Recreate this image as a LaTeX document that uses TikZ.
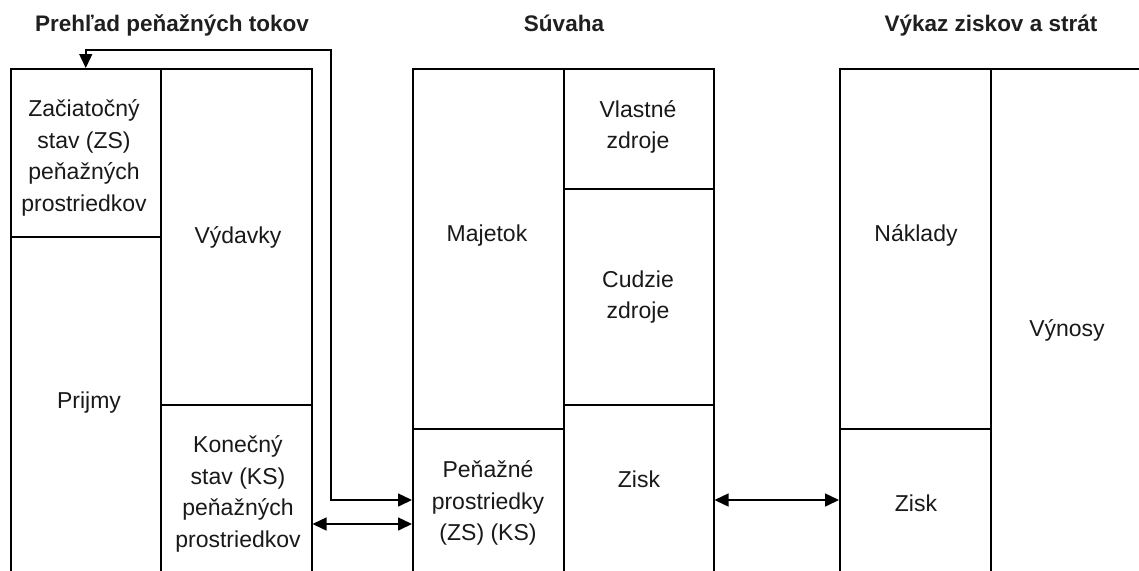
\documentclass[tikz,border=0pt]{standalone}
\usepackage{fontspec}
\setmainfont{Liberation Sans}
\usetikzlibrary{arrows.meta}
\begin{document}
\begin{tikzpicture}[x=1pt,y=-1pt,
  cell/.style={draw=black, line width=1.5pt, rectangle, inner sep=0pt, anchor=north west},
  txt/.style={font=\fontsize{23}{31.5}\selectfont, align=center, inner sep=0pt, text=black!90},
  ttl/.style={font=\fontsize{22.5}{27}\selectfont\bfseries, inner sep=0pt, anchor=base, text=black!88},
  conn/.style={line width=1.5pt, {Triangle[length=14pt,width=13pt]}-{Triangle[length=14pt,width=13pt]}}
]
\clip (0,0) rectangle (1139,570);
\fill[white] (0,0) rectangle (1139,570);

% titles
\node[ttl] (t1) at (172,31) {Prehľad peňažných tokov};
\node[ttl] (t2) at (564,31) {Súvaha};
\node[ttl] (t3) at (991,31) {Výkaz ziskov a strát};

% left block
\node[cell, minimum width=150pt, minimum height=168pt] (zs) at (10,68) {};
\node[cell, minimum width=150pt, minimum height=344pt] (prijmy) at (10,236) {};
\node[cell, minimum width=151pt, minimum height=336pt] (vydavky) at (160,68) {};
\node[cell, minimum width=151pt, minimum height=176pt] (ks) at (160,404) {};

% middle block
\node[cell, minimum width=151pt, minimum height=360pt] (majetok) at (412,68) {};
\node[cell, minimum width=151pt, minimum height=152pt] (pp) at (412,428) {};
\node[cell, minimum width=150pt, minimum height=120pt] (vz) at (563,68) {};
\node[cell, minimum width=150pt, minimum height=216pt] (cz) at (563,188) {};
\node[cell, minimum width=150pt, minimum height=176pt] (zisk1) at (563,404) {};

% right block
\node[cell, minimum width=151pt, minimum height=360pt] (naklady) at (839,68) {};
\node[cell, minimum width=151pt, minimum height=152pt] (zisk2) at (839,428) {};
\node[cell, minimum width=160pt, minimum height=512pt] (vynosy) at (990,68) {};

% texts
\node[txt] (lzs) at (84,158) {Začiatočný\\stav (ZS)\\peňažných\\prostriedkov};
\node[txt] (lvyd) at (238,237) {Výdavky};
\node[txt] (lpri) at (89,403) {Prijmy};
\node[txt] (lks) at (238,494) {Konečný\\stav (KS)\\peňažných\\prostriedkov};
\node[txt] (lmaj) at (487,236) {Majetok};
\node[txt] (lvz) at (638,127) {Vlastné\\zdroje};
\node[txt] (lcz) at (638,297) {Cudzie\\zdroje};
\node[txt] (lpp) at (488,503) {Peňažné\\prostriedky\\(ZS) (KS)};
\node[txt] (lz1) at (639,479) {Zisk};
\node[txt] (lnak) at (916,235) {Náklady};
\node[txt] (lz2) at (916,503) {Zisk};
\node[txt] (lvyn) at (1067,330) {Výnosy};

% connector helper coordinates
\coordinate (loopc) at (331,50);
\coordinate (ya) at (0,500);
\coordinate (yb) at (0,524);

\draw[conn] (zs.north) |- (loopc) |- (pp.west |- ya);
\draw[conn] (ks.east |- yb) -- (pp.west |- yb);
\draw[conn] (zisk1.east |- ya) -- (zisk2.west |- ya);
\end{tikzpicture}
\end{document}
